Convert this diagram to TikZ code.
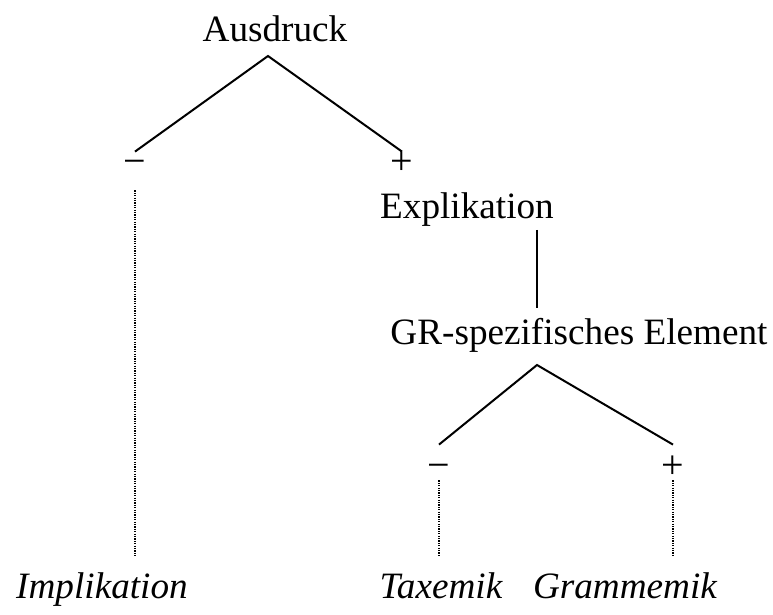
\documentclass[tikz,border=0pt]{standalone}
\usepackage{fontspec}
\setmainfont{Liberation Serif}
\usetikzlibrary{positioning}

\begin{document}
\begin{tikzpicture}[x=0.5pt, y=-0.5pt,
    lbl/.style={inner sep=0pt, anchor=base, font=\fontsize{18.6}{22}\selectfont},
    sgn/.style={lbl, font=\fontsize{20}{24}\selectfont, text height=#1},
    lf/.style={lbl, font=\fontsize{18.6}{22}\selectfont\itshape, text height=21.5pt},
    edge/.style={line width=1pt},
    dots/.style={line width=0.6pt, dash pattern=on 0.6pt off 0.6pt}]
    \useasboundingbox (0,0) rectangle (773,615);

    \node[lbl] (aus) at (275,42) {Ausdruck};
    \node[sgn=11.5pt, text depth=7.5pt] (m0) at (135,175) {−};
    \node[sgn=11.5pt] (p0) at (402,175) {+};
    \node[lbl] (exp) at (467,219) {Explikation};
    \node[lbl] (gr) at (579,345) {GR-spezifisches Element};
    \node[sgn=17pt, text depth=0.5pt] (m1) at (439,479) {−};
    \node[sgn=17pt, text depth=0.5pt] (p1) at (673,479) {+};
    \node[lf] (imp) at (102,599) {Implikation};
    \node[lf] (tax) at (441,599) {Taxemik};
    \node[lf] (gra) at (625,599) {Grammemik};

    \coordinate (a0) at (268,56);
    \coordinate (a1) at (537,365);
    \coordinate (e0) at (537,230);
    \coordinate (e1) at (537,308);

    \draw[edge] (m0.north) -- (a0) -- (p0.north);
    \draw[edge] (e0) -- (e1);
    \draw[edge] (m1.north) -- (a1) -- (p1.north);

    \draw[dots] (m0.south) -- (m0.south |- imp.north);
    \draw[dots] (m1.south) -- (m1.south |- tax.north);
    \draw[dots] (p1.south) -- (p1.south |- gra.north);
\end{tikzpicture}
\end{document}
